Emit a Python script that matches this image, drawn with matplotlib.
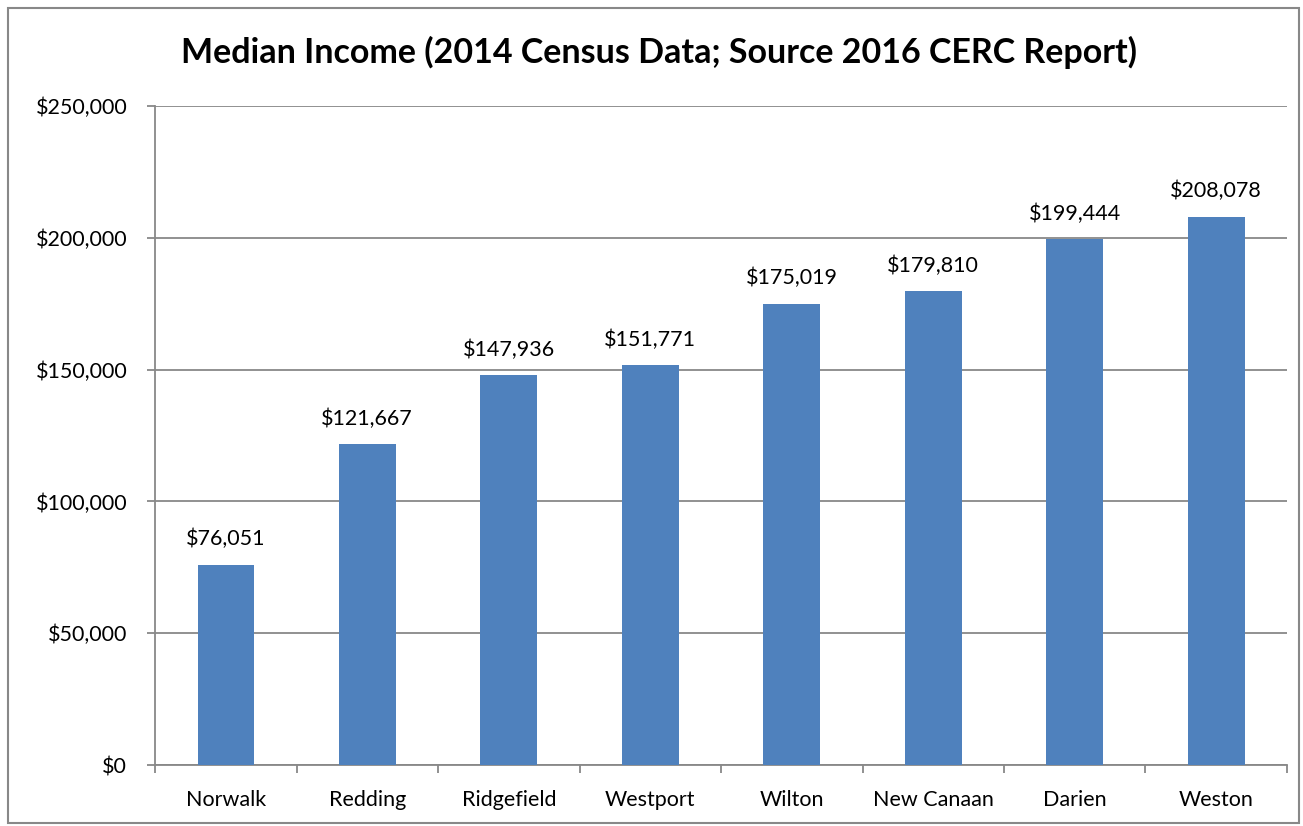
import numpy as np
import matplotlib.pyplot as plt
from matplotlib.patches import Rectangle
from matplotlib.ticker import FuncFormatter

# データ
towns = ['Norwalk', 'Redding', 'Ridgefield', 'Westport', 'Wilton',
         'New Canaan', 'Darien', 'Weston']
income = [76051, 121667, 147936, 151771, 175019, 179810, 199444, 208078]
yticks = [0, 50000, 100000, 150000, 200000, 250000]

plt.rcParams['font.family'] = ['Lato', 'DejaVu Sans']
grid_c = '#888888'
fs = 15.5

fig = plt.figure(figsize=(13.03, 8.26), dpi=100)
ax = fig.add_axes([0.119, 0.0738, 0.8687, 0.7978])

x = np.arange(len(towns))
ax.bar(x, income, width=0.40, color='#4F81BD', zorder=3)
for xi, v in zip(x, income):
    ax.annotate('${:,}'.format(v), (xi, v), xytext=(0, 11),
                textcoords='offset points', ha='center', va='bottom',
                fontsize=fs, color='black')

ax.set_xlim(-0.5, len(towns) - 0.5)
ax.set_ylim(0, 250000)
ax.set_yticks(yticks)
ax.yaxis.set_major_formatter(FuncFormatter(lambda v, p: '${:,.0f}'.format(v)))
ax.grid(axis='y', color=grid_c, linewidth=1.3, zorder=0)

# カテゴリ境界の目盛り
ax.set_xticks(np.arange(len(towns) + 1) - 0.5)
ax.set_xticklabels([])
ax.set_xticks(x, minor=True)
ax.set_xticklabels(towns, minor=True)
ax.tick_params(axis='x', which='major', length=6, color=grid_c, width=1.3)
ax.tick_params(axis='x', which='minor', length=0, pad=18, labelsize=fs)
ax.tick_params(axis='y', length=6, color=grid_c, width=1.3, pad=14, labelsize=fs)

for s in ['top', 'right']:
    ax.spines[s].set_visible(False)
for s in ['left', 'bottom']:
    ax.spines[s].set_color(grid_c)
    ax.spines[s].set_linewidth(1.3)

fig.text(0.506, 0.937, 'Median Income (2014 Census Data; Source 2016 CERC Report)',
         ha='center', va='center', fontsize=24.5, fontweight='bold')

# 外枠
fig.patches.append(Rectangle((8 / 1303, 3 / 826), 1291 / 1303, 815 / 826,
                             transform=fig.transFigure, fill=False,
                             edgecolor='#888888', linewidth=1.5))

fig.savefig('out.png', dpi=100)
